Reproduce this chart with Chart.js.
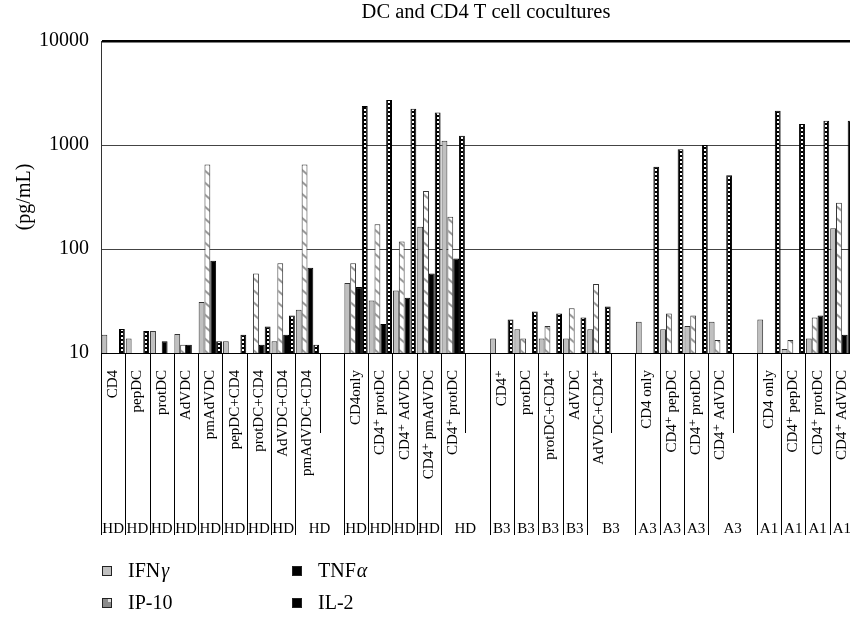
<!DOCTYPE html>
<html>
<head>
<meta charset="utf-8">
<script src="https://cdn.jsdelivr.net/npm/chart.js@4/dist/chart.umd.min.js"></script>
<style>
  html, body { margin: 0; padding: 0; overflow: hidden; background: #fff; }
  #wrap { width: 880px; height: 617px; }
</style>
</head>
<body>
<div id="wrap"><canvas id="chart"></canvas></div>
<script>
// categories ('' = spacer between donor groups)
const categories = [
  "CD4", "pepDC", "protDC", "AdVDC", "pmAdVDC", "pepDC+CD4", "protDC+CD4", "AdVDC+CD4", "pmAdVDC+CD4", "",
  "CD4only", "CD4⁺ protDC", "CD4⁺ AdVDC", "CD4⁺ pmAdVDC", "CD4⁺ protDC", "",
  "CD4⁺", "protDC", "protDC+CD4⁺", "AdVDC", "AdVDC+CD4⁺", "",
  "CD4 only", "CD4⁺ pepDC", "CD4⁺ protDC", "CD4⁺ AdVDC", "",
  "CD4 only", "CD4⁺ pepDC", "CD4⁺ protDC", "CD4⁺ AdVDC"
];
const donors = [
  "HD", "HD", "HD", "HD", "HD", "HD", "HD", "HD", "HD", "",
  "HD", "HD", "HD", "HD", "HD", "",
  "B3", "B3", "B3", "B3", "B3", "",
  "A3", "A3", "A3", "A3", "",
  "A1", "A1", "A1", "A1"
];

// pg/mL
const ifng = [15, 13.8, 16.3, 15.2, 31, 13, null, 13, 26, null,
  47, 32, 40, 164, 1100, null,
  13.8, 16.9, 13.8, 13.8, 16.9, null,
  20, 16.9, 18.2, 20, null,
  21, 10.9, 13.8, 158];
const ip10 = [null, null, null, 12, 650, null, 58, 73, 650, null,
  73, 173, 118, 361, 204, null,
  null, 13.8, 18.2, 27, 46, null,
  null, 24, 23, 13.3, null,
  null, 13.3, 22, 279];
const tnfa = [null, null, 13, 12, 77, null, 12, 15, 66, null,
  43, 19, 34, 58, 81, null,
  null, null, null, null, null, null,
  null, null, null, null, null,
  null, null, 23, 15];
const il2 = [17, 16.3, null, null, 13, 15, 18, 23, 12, null,
  2370, 2710, 2230, 2050, 1230, null,
  21, 25, 24, 22, 28, null,
  618, 912, 1000, 513, null,
  2140, 1590, 1710, 1710];

const yTicks = [10, 100, 1000, 10000];
const seriesNames = ["IFNγ", "IP-10", "TNFα", "IL-2"];

const SERIF = "'Liberation Serif', 'DejaVu Serif', serif";
const CAT_PCT = 0.96;

// pattern tiles
function makeTile(w, h, draw) {
  const c = document.createElement("canvas");
  c.width = w; c.height = h;
  draw(c.getContext("2d"));
  return c;
}
const ladderTile = makeTile(6, 4, g => {
  g.fillStyle = "#000"; g.fillRect(0, 0, 6, 4);
  g.fillStyle = "#fff"; g.fillRect(2, 1, 2, 2);
});
const hatchTile = makeTile(6, 12, g => {
  g.fillStyle = "#fff"; g.fillRect(0, 0, 6, 12);
  g.strokeStyle = "#999"; g.lineWidth = 2.2;
  g.beginPath(); g.moveTo(-1, 1); g.lineTo(7, 8); g.stroke();
});

// pattern anchored to each bar's left edge
function patternFill(tile, dsIndex, fallback) {
  return c => {
    const chart = c.chart;
    const x = chart.scales && chart.scales.x;
    if (!x || c.dataIndex === undefined || !x.width) return fallback;
    const catW = x.getPixelForValue(1) - x.getPixelForValue(0);
    const barW = catW * CAT_PCT / 4;
    const left = x.getPixelForValue(c.dataIndex) - catW * CAT_PCT / 2 + dsIndex * barW;
    const p = chart.ctx.createPattern(tile, "repeat");
    p.setTransform(new DOMMatrix().translate(Math.round(left), 0));
    return p;
  };
}

const legendSwatches = ["#c0c0c0", "#8a8a8a", "#000", "#000"];

const decorations = {
  id: "decorations",
  afterDraw(chart) {
    const { ctx, chartArea, scales: { x } } = chart;
    const catW = x.getPixelForValue(1) - x.getPixelForValue(0);
    const axisY = chartArea.bottom;
    ctx.save();
    // divider lines under the axis
    ctx.strokeStyle = "#000";
    ctx.lineWidth = 1;
    for (let i = 0; i < categories.length; i++) {
      const bx = Math.round(x.getPixelForValue(i) - catW / 2) + 0.5;
      const short = i > 0 && categories[i] === "" && categories[i - 1] !== "";
      ctx.beginPath();
      ctx.moveTo(bx, axisY);
      ctx.lineTo(bx, short ? 433 : 535);
      ctx.stroke();
    }
    // donor labels
    ctx.fillStyle = "#000";
    ctx.font = "15px " + SERIF;
    ctx.textAlign = "center";
    ctx.textBaseline = "middle";
    donors.forEach((d, i) => {
      if (!d) return;
      let cx = x.getPixelForValue(i);
      if (categories[i + 1] === "") cx += catW / 2;
      ctx.fillText(d, cx, 529);
    });
    // title
    ctx.font = "20.5px " + SERIF;
    ctx.fillText("DC and CD4 T cell cocultures", 486, 13);
    // legend, two columns; greek letters in italic
    ctx.textAlign = "left";
    seriesNames.forEach((name, i) => {
      const lx = i < 2 ? 102 : 292;
      const ly = i % 2 === 0 ? 571 : 603;
      ctx.fillStyle = legendSwatches[i];
      ctx.fillRect(lx, ly - 5, 10, 10);
      ctx.strokeStyle = "#222";
      ctx.strokeRect(lx + 0.5, ly - 4.5, 9, 9);
      if (i === 1) {
        ctx.fillStyle = "#ddd";
        ctx.fillRect(lx + 6, ly - 4, 3, 3);
      }
      ctx.fillStyle = "#000";
      const m = name.match(/^(.*?)([α-ω]?)$/);
      ctx.font = "20px " + SERIF;
      ctx.fillText(m[1], lx + 26, ly + 1);
      if (m[2]) {
        const w = ctx.measureText(m[1]).width;
        ctx.font = "italic 20px " + SERIF;
        ctx.fillText(m[2], lx + 26 + w + 1, ly + 1);
      }
    });
    ctx.restore();
  }
};

new Chart(document.getElementById("chart"), {
  type: "bar",
  data: {
    labels: categories,
    datasets: [
      { label: seriesNames[0], data: ifng, backgroundColor: "#c0c0c0", borderColor: "#333", borderWidth: 1 },
      { label: seriesNames[1], data: ip10, backgroundColor: patternFill(hatchTile, 1, "#fff"), borderColor: "#333", borderWidth: 1 },
      { label: seriesNames[2], data: tnfa, backgroundColor: "#000", borderColor: "#000", borderWidth: 1 },
      { label: seriesNames[3], data: il2, backgroundColor: patternFill(ladderTile, 3, "#000"), borderColor: "#000", borderWidth: 1 }
    ]
  },
  options: {
    responsive: true,
    maintainAspectRatio: false,
    animation: false,
    categoryPercentage: CAT_PCT,
    barPercentage: 1,
    layout: { padding: { top: 41, right: 26, left: 0, bottom: 0 } },
    plugins: {
      legend: { display: false },
      title: { display: false },
      tooltip: { enabled: false }
    },
    scales: {
      x: {
        grid: { display: false },
        border: { display: true, color: "#000", width: 1 },
        ticks: {
          autoSkip: false,
          minRotation: 90,
          maxRotation: 90,
          padding: 9,
          color: "#000",
          font: { family: SERIF, size: 15 }
        },
        afterFit: s => { s.height = 264; }
      },
      y: {
        type: "logarithmic",
        min: 10,
        max: 10000,
        afterBuildTicks: s => { s.ticks = yTicks.map(v => ({ value: v })); },
        afterFit: s => { s.width = 101; },
        grid: {
          drawTicks: false,
          color: c => (c.tick && c.tick.value === 10000 ? "#000" : "#444"),
          lineWidth: c => (c.tick && c.tick.value === 10000 ? 2.5 : 1)
        },
        border: { display: true, color: "#333", width: 1 },
        ticks: {
          padding: 12,
          color: "#000",
          font: { family: SERIF, size: 20 },
          callback: v => String(v)
        },
        title: {
          display: true,
          text: "(pg/mL)",
          color: "#000",
          font: { family: SERIF, size: 20 },
          padding: { top: 13 }
        }
      }
    }
  },
  plugins: [decorations]
});
</script>
</body>
</html>
